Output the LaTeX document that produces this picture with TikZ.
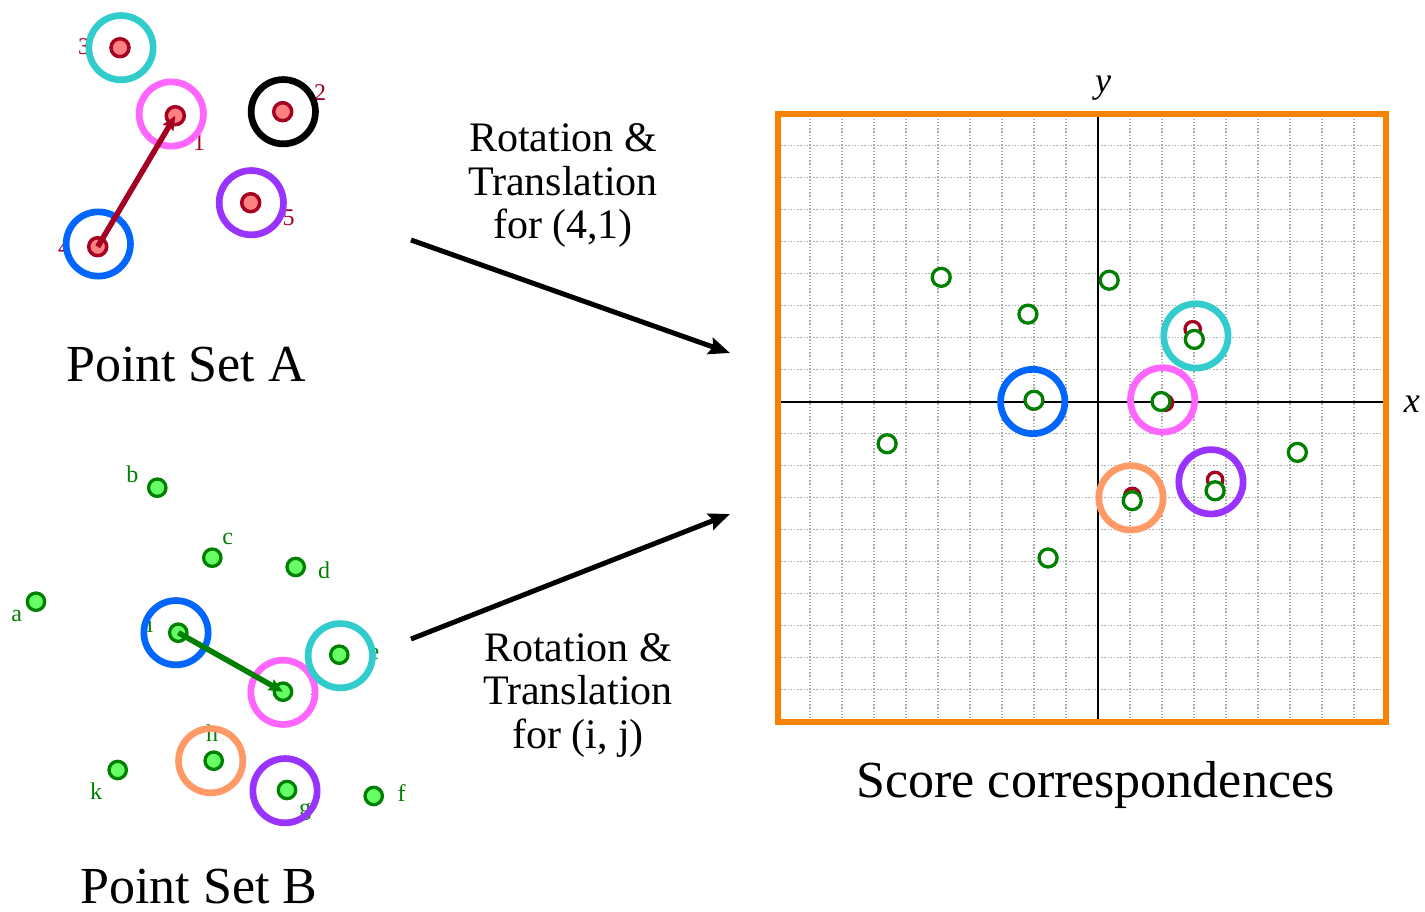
\documentclass[tikz,border=0pt]{standalone}
\usepackage{fontspec}
\setmainfont{Liberation Serif}
\usetikzlibrary{arrows.meta}

\definecolor{ptred}{HTML}{A50021}
\definecolor{ptredfill}{HTML}{FF8080}
\definecolor{ptgreen}{HTML}{008000}
\definecolor{ptgreenfill}{HTML}{66FF66}
\definecolor{ringcyan}{HTML}{33CCCC}
\definecolor{ringpink}{HTML}{FF66FF}
\definecolor{ringblue}{HTML}{0066FF}
\definecolor{ringpurple}{HTML}{9933FF}
\definecolor{ringorange}{HTML}{FF9966}
\definecolor{frameorange}{HTML}{F58200}
\definecolor{gridgray}{HTML}{ABABAB}

\begin{document}
\begin{tikzpicture}[x=1pt,y=-1pt,
  apt/.style={circle,draw=ptred,fill=ptredfill,line width=3.5pt,minimum size=18pt,inner sep=0pt},
  bpt/.style={circle,draw=ptgreen,fill=ptgreenfill,line width=3.3pt,minimum size=17.4pt,inner sep=0pt},
  ring/.style={circle,line width=6.7pt,minimum size=64.3pt,inner sep=0pt},
  alabel/.style={text=ptred,font=\fontsize{24}{24}\selectfont,inner sep=0pt},
  blabel/.style={text=ptgreen,font=\fontsize{24}{24}\selectfont,inner sep=0pt},
  settitle/.style={font=\fontsize{52}{60}\selectfont,anchor=base,inner sep=0pt},
  caption/.style={font=\fontsize{42}{43.5}\selectfont,align=center,anchor=north,inner sep=0pt},
  bigarrow/.style={line width=5pt,-{Stealth[length=21pt,width=17pt,inset=3pt]}},
  matcharrow/.style={line width=5.5pt,-{Stealth[length=14pt,width=12pt,inset=2pt]}},
  gmark/.style={circle,draw=ptgreen,fill=white,line width=3.3pt,minimum size=18pt,inner sep=0pt},
  rmark/.style={circle,draw=ptred,fill=white,line width=3.3pt,minimum size=15.4pt,inner sep=0pt},
  gridline/.style={gridgray,line width=1.3pt,dash pattern=on 1.3pt off 1.9pt},
  axisline/.style={black,line width=2pt},
  plotframe/.style={frameorange,line width=6pt},
  axislabel/.style={font=\fontsize{36}{36}\selectfont\itshape,inner sep=0pt}
]
\useasboundingbox (0,0) rectangle (1425,911);

% ---------- point set A ----------
\node[alabel] (la3) at (84,46.7) {3};
\node[alabel] (la1) at (199,143) {1};
\node[alabel] (la2) at (320,93) {2};
\node[alabel] (la5) at (288.5,218) {5};
\node[alabel] (la4) at (64,248) {4};

\node[apt] (A3) at (120,47.7) {};
\node[apt] (A1) at (175.3,115.7) {};
\node[apt] (A2) at (282.7,111.7) {};
\node[apt] (A5) at (250.7,202.7) {};
\node[apt] (A4) at (97.7,246.7) {};

\node[ring,draw=ringcyan] (RA3) at (121,47.7) {};
\node[ring,draw=ringpink] (RA1) at (171.3,114) {};
\node[ring,draw=black] (RA2) at (283.3,111.7) {};
\node[ring,draw=ringpurple] (RA5) at (251.3,202.7) {};
\node[ring,draw=ringblue] (RA4) at (98.3,244) {};

\draw[matcharrow,ptred] (A4.center) -- (A1.center);

\node[settitle] (titleA) at (186,381) {Point Set A};

% ---------- point set B ----------
\node[blabel] (lb) at (132.3,474) {b};
\node[blabel] (lc) at (227.7,539.3) {c};
\node[blabel] (ld) at (324,570) {d};
\node[blabel] (la) at (16.7,615.7) {a};
\node[blabel] (li) at (150,625) {i};
\node[blabel] (lj) at (313,700) {j};
\node[blabel] (le) at (374,654) {e};
\node[blabel] (lh) at (212,733) {h};
\node[blabel] (lk) at (96,790.7) {k};
\node[blabel] (lg) at (305,812) {g};
\node[blabel] (lf) at (401.7,793.3) {f};

\node[bpt] (Bb) at (157.3,487.7) {};
\node[bpt] (Bc) at (212.3,557.7) {};
\node[bpt] (Bd) at (295.7,567) {};
\node[bpt] (Ba) at (36,601.7) {};
\node[bpt] (Bi) at (178.3,632.7) {};
\node[bpt] (Bj) at (283,691.7) {};
\node[bpt] (Be) at (339.3,654.7) {};
\node[bpt] (Bh) at (213.7,760.7) {};
\node[bpt] (Bk) at (117.7,770) {};
\node[bpt] (Bg) at (287,790) {};
\node[bpt] (Bf) at (373.7,796) {};

\node[ring,draw=ringblue] (RBi) at (176,632.7) {};
\node[ring,draw=ringpink] (RBj) at (283,692.3) {};
\node[ring,draw=ringcyan] (RBe) at (340.3,655.7) {};
\node[ring,draw=ringorange] (RBh) at (210.7,760.7) {};
\node[ring,draw=ringpurple] (RBg) at (285,790.7) {};

\draw[matcharrow,ptgreen] (Bi.center) -- (Bj.center);

\node[settitle] (titleB) at (199,903) {Point Set B};

% ---------- transformation arrows ----------
\coordinate (upFrom) at (411,240);
\coordinate (upTo) at (730,353);
\coordinate (lowFrom) at (411,639);
\coordinate (lowTo) at (730,514);
\draw[bigarrow] (upFrom) -- (upTo);
\draw[bigarrow] (lowFrom) -- (lowTo);

\node[caption] (capA) at (563,123.5) {Rotation \&\\Translation\\for (4,1)};
\node[caption] (capB) at (578,633) {Rotation \&\\Translation\\for (i, j)};

% ---------- correspondence score plot ----------
\begin{scope}[shift={(1098,401.5)},x=32pt,y=32pt]
  \foreach \k in {-9,...,8} {
    \draw[gridline] (\k,-10) -- (\k,9);
    \draw[gridline] (-10,\k) -- (9,\k);
  }
  \draw[axisline] (-10,0) -- (9,0);
  \draw[axisline] (0,-10) -- (0,9);

  % transformed points of set A
  \node[rmark] (r1) at (2.96,2.26) {};
  \node[rmark] (r2) at (-2.02,0) {};
  \node[rmark] (r3) at (2.09,-0.04) {};
  \node[rmark] (r4) at (3.66,-2.45) {};
  \node[rmark] (r5) at (1.07,-2.95) {};

  % transformed points of set B
  \node[gmark] (q1) at (-4.90,3.88) {};
  \node[gmark] (q2) at (0.35,3.79) {};
  \node[gmark] (q3) at (-2.19,2.73) {};
  \node[gmark] (q4) at (3.01,1.94) {};
  \node[gmark] (q5) at (-2.0,0.04) {};
  \node[gmark] (q6) at (1.97,0) {};
  \node[gmark] (q7) at (-6.59,-1.32) {};
  \node[gmark] (q8) at (6.23,-1.59) {};
  \node[gmark] (q9) at (3.66,-2.79) {};
  \node[gmark] (q10) at (1.07,-3.1) {};
  \node[gmark] (q11) at (-1.56,-4.89) {};

  % matched pairs
  \node[ring,draw=ringcyan] (m1) at (3.06,2.05) {};
  \node[ring,draw=ringpink] (m2) at (2.02,0.05) {};
  \node[ring,draw=ringblue] (m3) at (-2.04,0) {};
  \node[ring,draw=ringpurple] (m4) at (3.53,-2.51) {};
  \node[ring,draw=ringorange] (m5) at (1.03,-3.01) {};

  \draw[plotframe] (-10,-10) rectangle (9,9);

  \node[axislabel] (ylab) at (0.16,9.8) {y};
  \node[axislabel] (xlab) at (9.81,-0.1) {x};
\end{scope}

\node[settitle] (titleS) at (1095.5,797) {Score correspondences};
\end{tikzpicture}
\end{document}
